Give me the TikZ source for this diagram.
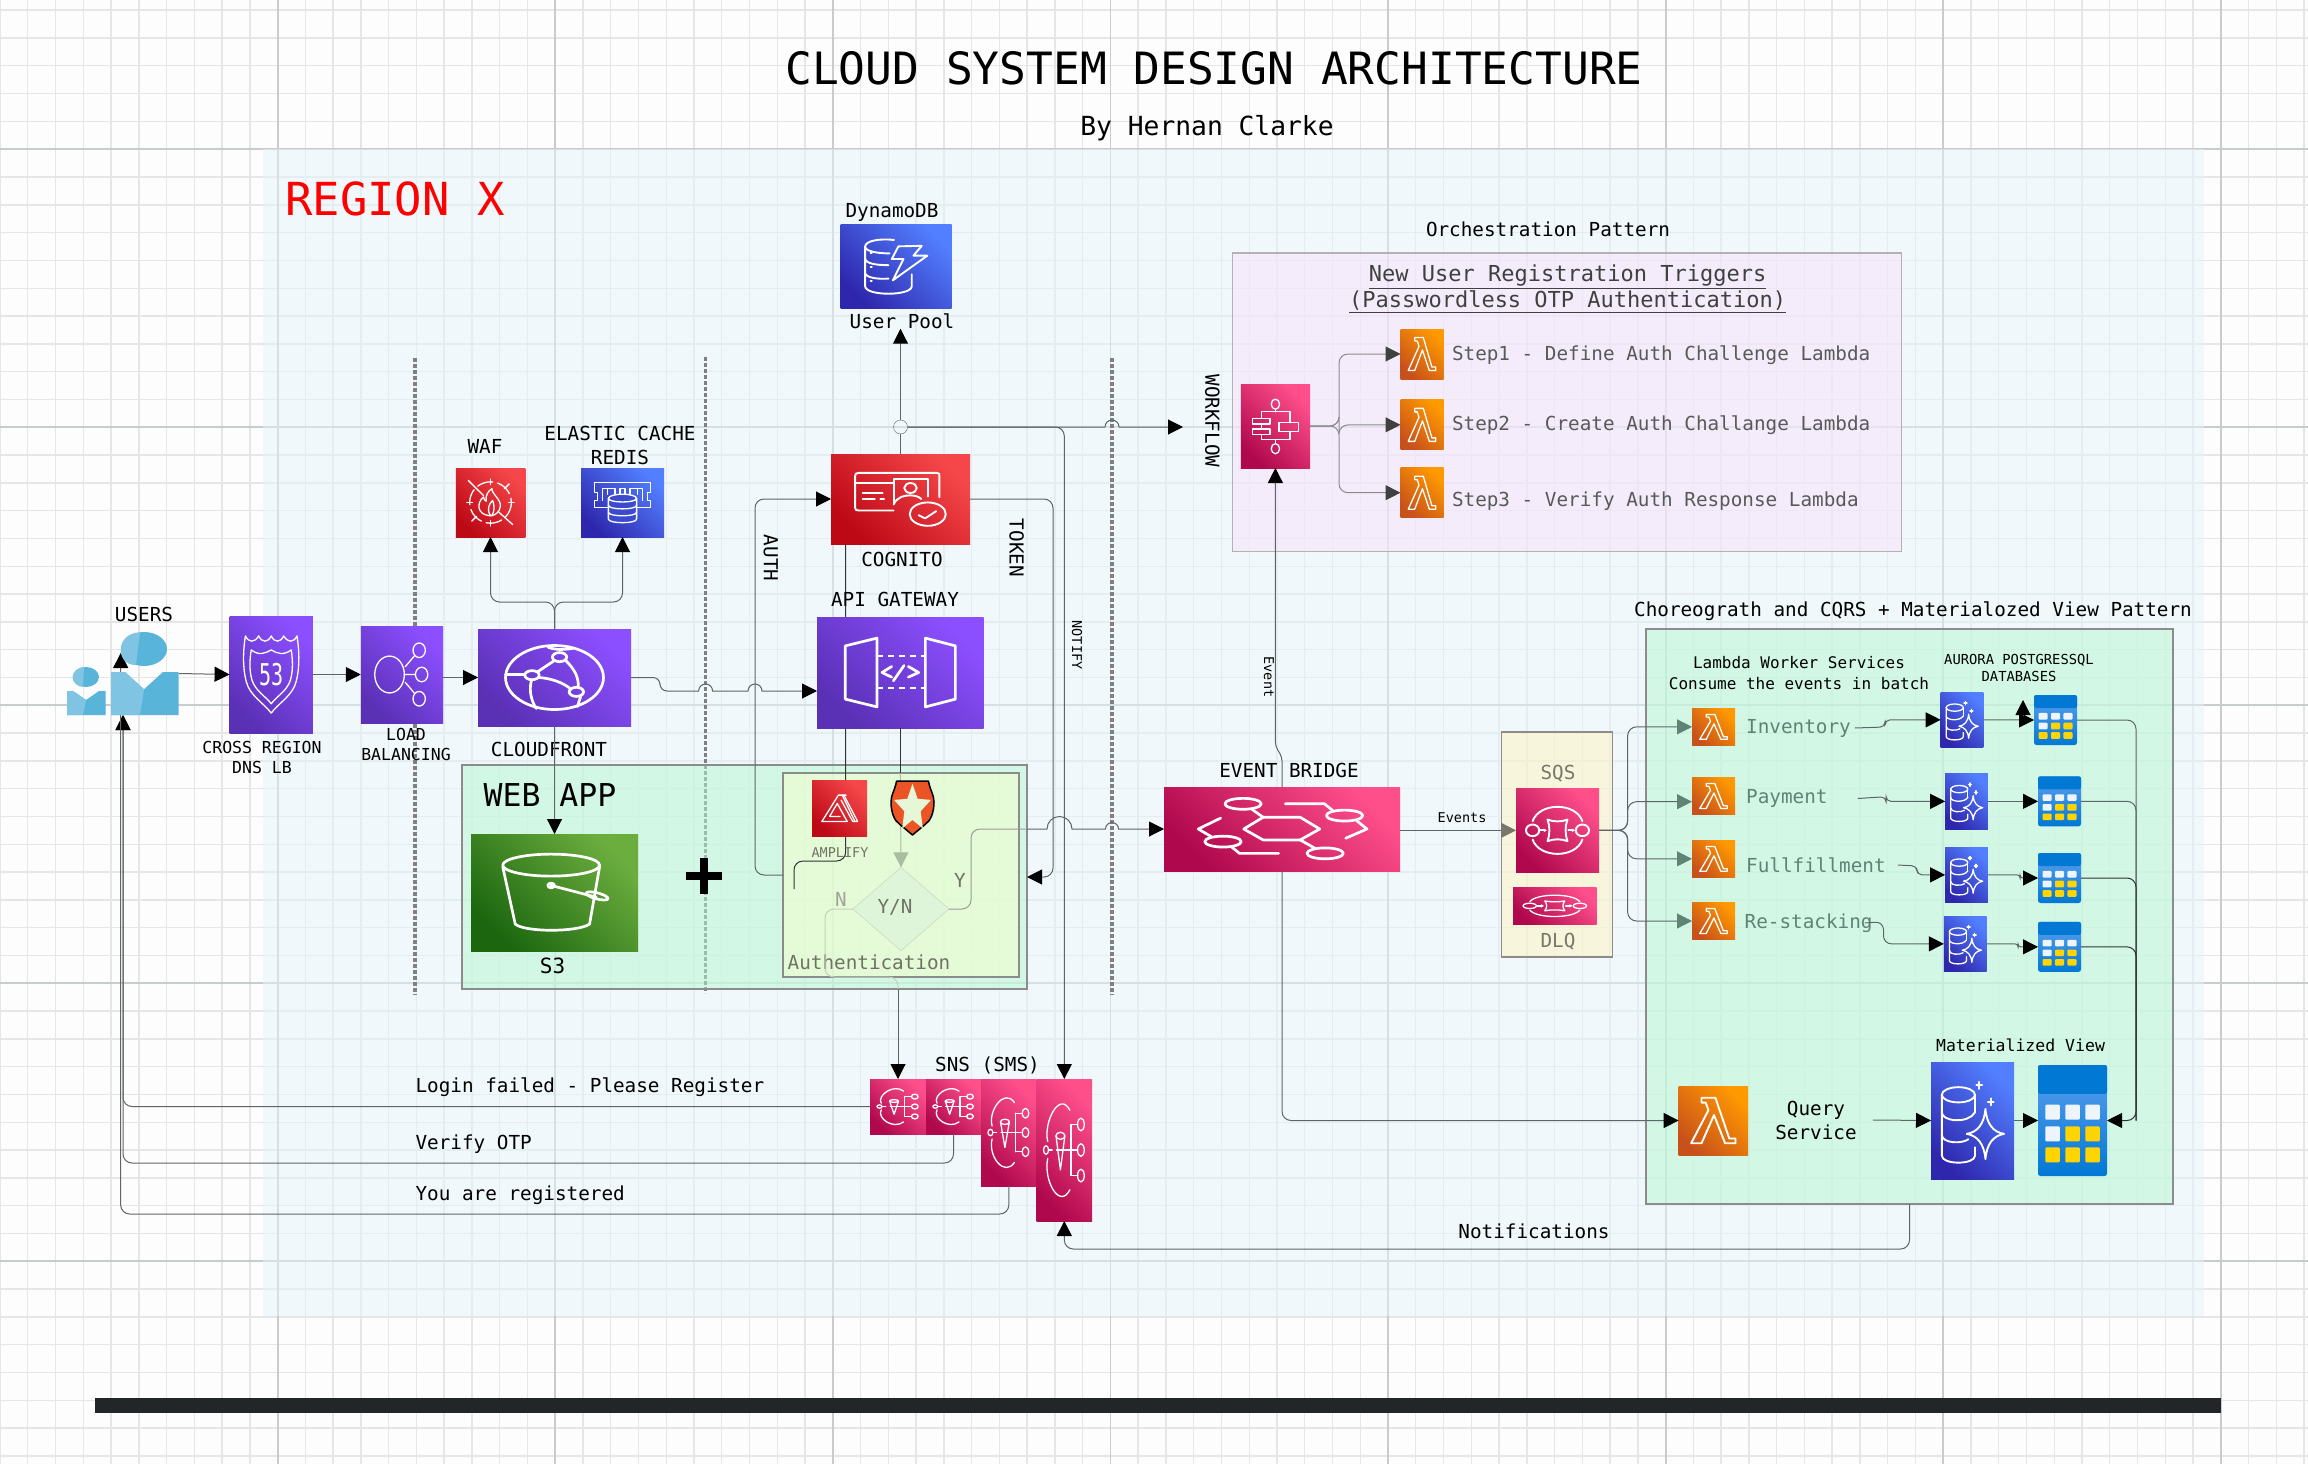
\documentclass[tikz,border=0pt]{standalone}
\usepackage{fontspec}
\setmainfont{DejaVu Sans Mono}
\usetikzlibrary{positioning, shapes.geometric, arrows.meta}
\definecolor{pageWhite}{HTML}{FDFDFD}
\definecolor{gridMinor}{HTML}{E6E6E6}
\definecolor{gridMajor}{HTML}{C9CCCC}
\definecolor{regionBlue}{HTML}{E4F4FB}
\definecolor{connGrey}{HTML}{5F6566}
\definecolor{connDark}{HTML}{333333}
\definecolor{fadeText}{HTML}{6F7363}
\definecolor{fadeTeal}{HTML}{5F8374}
\definecolor{fadeLine}{HTML}{C3D2B7}
\definecolor{fadeTip}{HTML}{AABD9F}
\definecolor{sandText}{HTML}{77776A}
\definecolor{purpleLo}{HTML}{5A30B5}
\definecolor{purpleHi}{HTML}{8C4FFF}
\definecolor{redLo}{HTML}{BD0816}
\definecolor{redHi}{HTML}{F54749}
\definecolor{blueLo}{HTML}{2E27AD}
\definecolor{blueHi}{HTML}{527FFF}
\definecolor{greenLo}{HTML}{1B660F}
\definecolor{greenHi}{HTML}{6CAE3E}
\definecolor{pinkLo}{HTML}{B0084D}
\definecolor{pinkHi}{HTML}{FF4F8B}
\definecolor{orangeLo}{HTML}{C8511B}
\definecolor{orangeHi}{HTML}{FF9900}
\definecolor{tableLo}{HTML}{0078D4}
\definecolor{tableHi}{HTML}{5EA0EF}
\definecolor{cellWhite}{HTML}{EEF4FC}
\definecolor{cellYellow}{HTML}{FFD400}
\definecolor{usersDark}{HTML}{59B4D9}
\definecolor{usersLight}{HTML}{7FC5E3}
\newcommand{\sz}[2]{\fontsize{#1}{#2}\selectfont}
\tikzset{
  minorgrid/.style={draw=gridMinor, line width=1.4pt},
  majorgrid/.style={draw=gridMajor, line width=1.8pt},
  dottedrule/.style={draw=black!50, line width=3.5pt, dash pattern=on 3.5pt off 2.5pt},
  conn/.style={draw=connGrey, line width=1pt, rounded corners=9pt},
  arw/.style={-{Triangle[length=15pt,width=15pt,black]}},
  arwfade/.style={-{Triangle[length=15pt,width=15pt,#1]}},
  glyph/.style={draw=white, line join=round, line cap=round},
  thinglyph/.style={line width=1.3pt},
  midglyph/.style={line width=1.9pt},
  wideglyph/.style={line width=2.7pt},
  awsbox/.style={inner sep=0pt, outer sep=0pt, shading angle=-45},
  purplebox/.style={bottom color=purpleLo, top color=purpleHi, awsbox},
  redbox/.style={bottom color=redLo, top color=redHi, awsbox},
  bluebox/.style={bottom color=blueLo, top color=blueHi, awsbox},
  greenbox/.style={bottom color=greenLo, top color=greenHi, awsbox},
  pinkbox/.style={bottom color=pinkLo, top color=pinkHi, awsbox},
  lambdabox/.style={bottom color=orangeLo, top color=orangeHi, awsbox},
  tablebox/.style={inner sep=0pt, outer sep=0pt, rounded corners=2.5pt, top color=tableHi, bottom color=tableLo},
  groupbox/.style={inner sep=0pt, outer sep=0pt, fill opacity=.5, line width=1.5pt},
  lbl/.style={font=\sz{19.3}{24}, align=center, inner sep=0pt},
  smalllbl/.style={font=\sz{16.5}{20}, align=center, inner sep=0pt},
  tinylbl/.style={font=\sz{13.5}{17}, align=center, inner sep=0pt},
  lambdaglyph/.pic={
    \draw[glyph] (-17,-33) -- (3,-33) -- (23,26) -- (32,26) -- (32,33) -- (17,33) -- (1,-8) -- (-17,33) -- (-32,33) -- (-7,-15) -- (-11,-26) -- (-17,-26) -- cycle;
  },
  tableglyph/.pic={
    \fill[fill=tableLo, rounded corners=2pt] (-50,-50) rectangle (50,-24);
    \foreach \cx/\cy/\cc in {-29/-7.5/cellWhite, 0/-7.5/cellWhite, 29/-7.5/cellWhite, -29/12/cellWhite, 0/12/cellYellow, 29/12/cellYellow, -29/31/cellYellow, 0/31/cellYellow, 29/31/cellYellow}
      \fill[\cc, rounded corners=1pt] (\cx-10.5,\cy-6.7) rectangle (\cx+10.5,\cy+6.7);
  },
  auroraglyph/.pic={
    \draw[glyph] (-17,-22) ellipse [x radius=20, y radius=6.5];
    \draw[glyph] (-37,-22) -- (-37,30) .. controls (-37,38) and (3,38) .. (3,30) -- (3,23);
    \draw[glyph] (3,-22) -- (3,-7);
    \draw[glyph] (-37,-7) .. controls (-37,1) and (-5,3) .. (3,-7);
    \draw[glyph] (-37,12) .. controls (-37,20) and (-12,20) .. (-5,16);
    \draw[glyph] (15.6,-10) .. controls (17,3) and (25,10) .. (38,11.4) .. controls (25,13) and (17,20) .. (15.6,33) .. controls (14,20) and (6,13) .. (-7,11.4) .. controls (6,10) and (14,3) .. cycle;
    \draw[glyph] (8,-33) -- (8,-27) (4.5,-30) -- (11.5,-30);
    \draw[glyph] (22,-19) -- (22,-13) (18.5,-16) -- (25.5,-16);
  },
  snsglyph/.pic={
    \draw[glyph] (10,-28) .. controls (-8,-42) and (-38,-20) .. (-30,-6);
    \draw[glyph] (-30,6) .. controls (-38,22) and (-8,42) .. (10,28);
    \draw[glyph] (-33,0) ellipse [x radius=4.5, y radius=3];
    \draw[glyph] (-28,0) -- (-22,0) (-14,0) -- (22,0) (12,-18) -- (12,18) (12,-18) -- (24,-18) (12,18) -- (24,18);
    \draw[glyph] (-7,-10) ellipse [x radius=8, y radius=2.5];
    \draw[glyph] (-15,-10) -- (-7,14) -- (1,-10);
    \draw[glyph] (30,-18) ellipse [x radius=6, y radius=4.5] (30,0) ellipse [x radius=6, y radius=4.5] (30,18) ellipse [x radius=6, y radius=4.5];
  },
  sqsglyph/.pic={
    \draw[glyph] (-30,-11) .. controls (-22,-34) and (22,-34) .. (30,-11);
    \draw[glyph] (-30,11) .. controls (-22,34) and (22,34) .. (30,11);
    \draw[glyph] (-30,0) ellipse [x radius=8, y radius=7];
    \draw[glyph] (30,0) ellipse [x radius=8, y radius=7];
    \draw[glyph] (-12,-13) .. controls (-5,-10) and (5,-10) .. (12,-13) .. controls (9,-5) and (9,5) .. (12,13) .. controls (5,10) and (-5,10) .. (-12,13) .. controls (-9,5) and (-9,-5) .. cycle;
    \draw[glyph, -{Stealth[length=3pt,width=3.5pt]}] (-21,0) -- (-13,0);
    \draw[glyph, -{Stealth[length=3pt,width=3.5pt]}] (13,0) -- (21,0);
  },
  eventglyph/.pic={
    \draw[glyph] (-16.2,0) -- (-8,-14) -- (7.7,-14) -- (16,0) -- (7.7,13) -- (-8,13) -- cycle;
    \draw[glyph] (-16.5,-30) ellipse [x radius=7.7, y radius=6.5];
    \draw[glyph] (-13,-24) -- (-8,-14) (7.7,13) -- (14,23);
    \draw[glyph] (18.3,29) ellipse [x radius=7.7, y radius=6.5];
    \draw[glyph] (26.5,-16) ellipse [x radius=7.7, y radius=6.5];
    \draw[glyph] (1.4,-30) -- (18,-30) -- (21.5,-22);
    \draw[glyph] (31.6,-10) -- (36,0) -- (27,11);
    \draw[glyph] (-25,15) ellipse [x radius=7.7, y radius=6.5];
    \draw[glyph] (-26,-13) -- (-35.5,0) -- (-30,9);
    \draw[glyph] (-21.5,21) -- (-18,29) -- (-1.4,29);
  },
  stepglyph/.pic={
    \draw[glyph] (0,-26) ellipse [x radius=6, y radius=6];
    \draw[glyph] (0,27) ellipse [x radius=6, y radius=6];
    \draw[glyph] (0,-20) -- (0,-17) (-20,-9) -- (-20,-17) -- (21,-17) -- (21,-4) (21,6.4) -- (21,16) -- (-20,16) -- (-20,10.4) (-20,-2.4) -- (-20,3.6) (0,16) -- (0,21);
    \draw[glyph] (-33,-9.2) rectangle (-8,-2.4) (-33,3.6) rectangle (-8,10.4) (5,-4) rectangle (33.5,6.4);
  },
  dnsglyph/.pic={
    \draw[glyph] (-31,-33) .. controls (-27,-27) and (-20,-27) .. (-15,-33) .. controls (-11,-27) and (-4,-27) .. (0,-33) .. controls (4,-27) and (11,-27) .. (15,-33) .. controls (20,-27) and (27,-27) .. (31,-33) .. controls (35,-15) and (33,-2) .. (30,6) .. controls (26,18) and (8,25) .. (0,33) .. controls (-8,25) and (-26,18) .. (-30,6) .. controls (-33,-2) and (-35,-15) .. cycle;
    \draw[glyph] (-24,-21) .. controls (-15,-16) and (-7,-18) .. (0,-21) .. controls (7,-18) and (15,-16) .. (24,-21) .. controls (27,-8) and (25,0) .. (23,5) .. controls (19,14) and (6,19) .. (0,25) .. controls (-6,19) and (-19,14) .. (-23,5) .. controls (-25,0) and (-27,-8) .. cycle;
    \node[font=\sz{20}{20}, text=white, yscale=1.5, inner sep=0pt] (dnsnum) at (0,0) {53};
  },
  balanceglyph/.pic={
    \draw[glyph] (-15,0) ellipse [x radius=18, y radius=19];
    \draw[glyph] (21,-25) ellipse [x radius=7.5, y radius=7.5];
    \draw[glyph] (24,0) ellipse [x radius=7.5, y radius=7.5];
    \draw[glyph] (21,25) ellipse [x radius=7.5, y radius=7.5];
    \draw[glyph] (4,-8) -- (15,-19) (3,0) -- (16,0) (4,8) -- (15,19);
  },
  frontglyph/.pic={
    \draw[glyph] (0,0) ellipse [x radius=32, y radius=33];
    \draw[glyph] (3.3,-21) ellipse [x radius=4.7, y radius=4.7];
    \draw[glyph] (-14.7,-2.4) ellipse [x radius=4.7, y radius=4.7];
    \draw[glyph] (14.3,14.8) ellipse [x radius=4.7, y radius=4.7];
    \draw[glyph] (-0.5,-17) -- (-11,-6) (-10,0) .. controls (-2,1) and (5,5) .. (10,11) (7,-18) .. controls (13,-9) and (16,0) .. (15.5,10) (-15,2.5) .. controls (-17,14) and (-15,24) .. (-12,32) (-32,-3) -- (-19.5,-3) (-4,-31) .. controls (0,-29) and (3,-28) .. (12,-30) (17,20) -- (15,30);
  },
  gatewayglyph/.pic={
    \draw[glyph] (-33,-24) -- (-14,-31) -- (-14,31) -- (-33,24) -- cycle;
    \draw[glyph] (15,-31) -- (33,-24) -- (33,24) -- (15,31) -- cycle;
    \draw[glyph, line cap=butt, dash pattern=on 6pt off 5pt] (-14,-15) -- (15,-15) (-14,14) -- (15,14);
    \draw[glyph] (-5.2,-5.4) -- (-11,0) -- (-5.2,4.2) (4.8,-5.4) -- (11,0) -- (4.8,4.2) (-4.2,7.5) -- (2.2,-6.3);
  },
  cognitoglyph/.pic={
    \draw[glyph] (-5,12.8) -- (-30,12.8) .. controls (-32,12.8) and (-32.6,12) .. (-32.6,10) -- (-32.6,-26) .. controls (-32.6,-28) and (-32,-29) .. (-30,-29) -- (26,-29) .. controls (28,-29) and (28,-28) .. (28,-26) -- (28,-2);
    \draw[glyph] (-32.6,-17.5) -- (-5,-17.5) (-27.3,-6.5) -- (-12.8,-6.5) (-27.3,0.2) -- (-18.5,0.2) (-14.5,0.2) -- (-11.8,0.2);
    \draw[glyph] (-5,5) -- (-5,-22) -- (20,-22) -- (20,-3);
    \draw[glyph] (7.2,-12.2) ellipse [x radius=4.5, y radius=5.5];
    \draw[glyph] (-5,6) .. controls (-2,-3) and (3,-4) .. (7,-4) .. controls (10,-4) and (13,-3) .. (15,0);
    \draw[glyph] (19.6,16.8) ellipse [x radius=13, y radius=13];
    \draw[glyph] (13,18) -- (17.7,21.5) -- (25.7,13.5);
  },
  bucketglyph/.pic={
    \draw[glyph] (-2,-23.4) ellipse [x radius=29, y radius=9.4];
    \draw[glyph] (-31,-22) -- (-23.5,27) .. controls (-18,34) and (14,34) .. (21,27) -- (27,-22);
    \draw[glyph] (-2,-6) -- (25,4);
    \draw[glyph] (-2,-6) circle [radius=2];
    \draw[glyph, rotate around={-22:(25.5,2.9)}] (25.5,2.9) ellipse [x radius=7, y radius=2.5];
  },
  dynamoglyph/.pic={
    \draw[glyph] (-2,-31) .. controls (-15,-33) and (-28,-30) .. (-28,-23) .. controls (-28,-18) and (-18,-15) .. (-6,-15);
    \draw[glyph] (-28,-23) -- (-28,24) .. controls (-28,36) and (14,36) .. (14,24) -- (14,10);
    \draw[glyph] (-28,-9) .. controls (-28,-3) and (-18,-1) .. (-7,-1);
    \draw[glyph] (-28,8) .. controls (-28,14) and (-16,16) .. (-7,15);
    \draw[glyph] (2,-23.4) -- (23,-24) -- (15.5,-12.3) -- (28,-12.3) -- (-3,17) -- (6.6,-8.3) -- (-4,-8.3) -- cycle;
    \draw[glyph, line cap=round] (-23,-16) -- (-22,-16) (-23,1) -- (-22,1) (-23,18) -- (-22,18);
  },
  wafglyph/.pic={
    \draw[glyph, dash pattern=on 16pt off 5pt] (0,0) circle [radius=30];
    \draw[glyph] (0,-34) -- (0,-26) (0,26) -- (0,34) (-34,0) -- (-26,0) (26,0) -- (34,0);
    \draw[glyph] (-32,-32) -- (-10,-10) (32,32) -- (12,14) (27,-27) -- (20,-20) (-27,27) -- (-20,20);
    \draw[glyph] (-2,19) .. controls (-20,17) and (-20,0) .. (-10,-8) .. controls (-9,-3) and (-7,-2) .. (-6,-2) .. controls (-8,-10) and (-3,-17) .. (2,-20) .. controls (2,-12) and (16,-4) .. (14,6) .. controls (13,14) and (7,18) .. (2,19) -- cycle;
    \draw[glyph] (0,19) .. controls (-6,10) and (-2,2) .. (3,-3) .. controls (6,5) and (6,12) .. (2,19);
  },
  cacheglyph/.pic={
    \draw[glyph] (-17,7) -- (-34,7) -- (-34,-3) -- (-30,-3) -- (-30,-15) -- (-34,-15) -- (-34,-29) -- (34,-29) -- (34,-15) -- (30,-15) -- (30,-3) -- (34,-3) -- (34,7) -- (17,7);
    \draw[glyph] (-24,-3) -- (-24,-20) -- (-18,-20) -- (-18,-12) (-18,-20) -- (-9,-20) -- (-9,-12) (-3,-12) -- (-3,-20) -- (3,-20) -- (3,-12) (9,-12) -- (9,-20) -- (18,-20) -- (18,-12) (18,-20) -- (24,-20) -- (24,-3);
    \draw[fill=blueLo!60!blueHi, glyph] (0,-6) ellipse [x radius=17, y radius=6];
    \draw[fill=blueLo!60!blueHi, glyph] (-17,-6) -- (-17,24) .. controls (-17,31) and (17,31) .. (17,24) -- (17,-6) .. controls (17,1) and (-17,1) .. (-17,-6) -- cycle;
    \draw[glyph] (-17,4) .. controls (-17,11) and (17,11) .. (17,4) (-17,14) .. controls (-17,21) and (17,21) .. (17,14);
  },
  amplifyglyph/.pic={
    \draw[glyph] (-32,24) -- (-2,-23) -- (8,-23) -- (33,24) -- (24,24) -- (3,-14);
    \draw[glyph] (-32,24) -- (14,24) -- (-4,-8) -- (-18,15) -- (1,15);
    \draw[glyph] (8,-23) -- (12,-23) (5,-23) -- (28,24);
  },
  shieldglyph/.pic={
    \draw[fill={rgb,255:red,235;green,84;blue,36}, draw=black, line width=1.5pt, line join=round] (-37,-50) -- (37,-50) .. controls (42,-30) and (50,-25) .. (50,-11) .. controls (50,8) and (42,24) .. (30,30) -- (0,50) -- (-30,30) .. controls (-42,24) and (-50,8) .. (-50,-11) .. controls (-50,-25) and (-42,-30) .. cycle;
    \fill[fill={rgb,255:red,230;green,247;blue,216}] (0,-45) -- (12,-17) -- (43,-15) -- (19,6) -- (24,38) -- (0,22) -- (-24,38) -- (-19,6) -- (-43,-15) -- (-12,-17) -- cycle;
  },
  usersglyph/.pic={
    \fill[usersDark] (-12,-1.5) -- (2,-1.5) -- (21,15.8) -- (40,-1.5) -- (55.6,-1.5) -- (55.6,41.5) -- (-12,41.5) -- cycle;
    \fill[usersLight] (-12,-1.5) -- (2,-1.5) -- (21,15.8) -- (17,41.5) -- (-12,41.5) -- cycle;
    \fill[usersDark] (21,-24.5) ellipse [x radius=23, y radius=17];
    \fill[usersLight] (17,-41) .. controls (-8,-41) and (-8,-8) .. (13,-8.5) -- cycle;
    \fill[usersDark] (-56,17.5) -- (-50,17.5) -- (-37,26.5) -- (-24,17.5) -- (-17.4,17.5) -- (-17.4,41.5) -- (-56,41.5) -- cycle;
    \fill[usersLight] (-56,17.5) -- (-50,17.5) -- (-37,26.5) -- (-40,41.5) -- (-56,41.5) -- cycle;
    \fill[usersDark] (-37,3.5) ellipse [x radius=13, y radius=10];
    \fill[usersLight] (-39,-6.5) .. controls (-54,-5) and (-54,12) .. (-40,13.5) -- cycle;
  },
}

\begin{document}
\begin{tikzpicture}[x=1pt, y=-1pt]
\useasboundingbox (0,0) rectangle (2308,1464);

\fill[pageWhite] (0,0) rectangle (2308,1464);
\foreach \gx in {0,...,83}
  \draw[minorgrid] ({\gx*27.76},0) -- ({\gx*27.76},1464);
\foreach \gy in {0,...,52}
  \draw[minorgrid] (0,{10.2+\gy*27.8}) -- (2308,{10.2+\gy*27.8});
\foreach \gx in {1,...,8}
  \draw[majorgrid] ({\gx*277.6},0) -- ({\gx*277.6},1464);
\foreach \gy in {0,...,4}
  \draw[majorgrid] (0,{149+\gy*278}) -- (2308,{149+\gy*278});

\node[groupbox, fill=regionBlue, minimum width=1941pt, minimum height=1167pt] (region) at (1233.5,732.5) {};

\node[font=\sz{44.5}{50}, inner sep=0pt] (title) at (1214,68) {CLOUD SYSTEM DESIGN ARCHITECTURE};
\node[font=\sz{26.3}{30}, inner sep=0pt] (byline) at (1207,128) {By Hernan Clarke};
\node[font=\sz{45.5}{50}, text=red, inner sep=0pt] (regionname) at (395,199) {REGION X};

\draw[dottedrule] (415,358) -- (415,995);
\draw[dottedrule] (705.6,357) -- (705.6,993);
\draw[dottedrule] (1112,358) -- (1112,995);

\node[groupbox, draw=black!45, fill={rgb,255:red,181;green,249;blue,209}, minimum width=565pt, minimum height=224pt] (webapp) at (744.5,877) {};
\node[groupbox, draw=black!45, fill={rgb,255:red,248;green,255;blue,204}, minimum width=236pt, minimum height=204pt] (authbox) at (901,875) {};
\node[groupbox, draw=black!30, fill={rgb,255:red,248;green,225;blue,251}, minimum width=669pt, minimum height=298.7pt] (orch) at (1567,402.35) {};
\node[groupbox, draw=black!45, fill={rgb,255:red,181;green,249;blue,209}, minimum width=527pt, minimum height=575pt] (choreo) at (1909.5,916.5) {};
\node[groupbox, draw=black!45, fill={rgb,255:red,255;green,243;blue,189}, minimum width=111pt, minimum height=225pt] (sqsgroup) at (1557,844.5) {};

\node[redbox, minimum width=139pt, minimum height=90pt] (cognito) at (900.5,499) {};
\draw[conn, connDark] ([xshift=-55pt]cognito.south) -- (845.7,861) -- (794,861) -- (794,889);

\node[purplebox, minimum width=166.7pt, minimum height=111pt] (api) at (900.35,672.5) {};
\pic[xscale=1.667, yscale=1.11, wideglyph] at (api.center) {gatewayglyph};
\pic[xscale=1.39, yscale=.9, midglyph] at (cognito.center) {cognitoglyph};
\node[lbl] (cognitoname) at (902,559) {COGNITO};
\node[lbl] (apiname) at (895,599) {API GATEWAY};

\node[redbox, minimum width=69.5pt, minimum height=69pt] (waf) at (490.5,502.5) {};
\pic[xscale=.695, yscale=.69, thinglyph] at (waf.center) {wafglyph};
\node[lbl] (wafname) at (485,446) {WAF};
\node[bluebox, minimum width=83pt, minimum height=69pt] (elastic) at (622.5,502.5) {};
\pic[xscale=.83, yscale=.69, thinglyph] at (elastic.center) {cacheglyph};
\node[lbl] (elasticname) at (620,445) {ELASTIC CACHE\\REDIS};

\node[bluebox, minimum width=111pt, minimum height=84pt] (dynamo) at (896.2,266) {};
\pic[xscale=1.11, yscale=.84, midglyph] at (dynamo.center) {dynamoglyph};
\node[lbl] (dynamoname) at (892,212) {DynamoDB};
\node[lbl] (poolname) at (902,321) {User Pool};

\node[minimum width=112pt, minimum height=83pt, inner sep=0pt, outer sep=0pt] (users) at (123,673.5) {};
\node[lbl] (usersname) at (144,614) {USERS};
\coordinate (usershead) at (120.7,653);

\node[purplebox, minimum width=83.2pt, minimum height=117pt] (dns) at (271.2,674.5) {};
\pic[xscale=.832, yscale=1.17, thinglyph] at (dns.center) {dnsglyph};
\node[smalllbl] (dnsname) at (262,757) {CROSS REGION\\DNS LB\hspace{8pt}};

\node[purplebox, minimum width=82.3pt, minimum height=97pt] (lb) at (401.9,674.5) {};
\pic[xscale=.823, yscale=.97, thinglyph] at (lb.center) {balanceglyph};
\node[smalllbl] (lbname) at (406,744) {LOAD\hspace{10pt}\\BALANCING};

\node[purplebox, minimum width=153pt, minimum height=97pt] (cf) at (554.5,677.5) {};
\pic[xscale=1.53, yscale=.97, wideglyph] at (cf.center) {frontglyph};
\node[lbl] (cfname) at (549,749) {CLOUDFRONT};

\node[font=\sz{31.5}{36}, inner sep=0pt] (webname) at (550,795) {WEB APP};
\node[greenbox, minimum width=167pt, minimum height=117pt] (s3) at (554.5,892.5) {};
\pic[xscale=1.67, yscale=1.17, wideglyph] at (s3.center) {bucketglyph};
\node[font=\sz{21}{24}, inner sep=0pt] (s3name) at (552.5,966) {S3};
\draw[line width=7.5pt] (686,876) -- (722,876) (704,858) -- (704,894);

\node[diamond, minimum width=96pt, minimum height=83.4pt, inner sep=0pt, outer sep=0pt, draw=fadeLine, fill={rgb,255:red,222;green,245;blue,218}] (decision) at (901,909) {};
\node[lbl, text=fadeText] (decisionname) at (895,907) {Y/N};
\node[lbl, text=fadeText!65] (noname) at (841,899) {N};
\node[lbl, text=fadeText] (yesname) at (960,880) {Y};
\node[lbl, text=fadeText] (authname) at (869,962) {Authentication};
\node[tinylbl, text=fadeText] (amplifyname) at (840,853) {AMPLIFY};
\coordinate (ygate) at (1027,829);
\draw[conn, connDark] (api.south) -- (api.south |- authbox.north);
\draw[conn, draw=fadeTip, arwfade=fadeTip] (api.south |- authbox.north) -- (decision.north);
\draw[conn, draw=fadeLine] (decision.west) -- (825,909) -- (825,977) -- (898,977) -- (898,989);
\draw[conn, draw=fadeText!70] (decision.east) -- (971,909) -- (971,829) -- (ygate);

\node[redbox, minimum width=55pt, minimum height=56pt] (amplify) at (839.5,808) {};
\pic[xscale=.55, yscale=.56, thinglyph] at (amplify.center) {amplifyglyph};
\node[inner sep=0pt, minimum width=43pt, minimum height=54pt] (authzero) at (912.5,808) {};
\pic[xscale=.43, yscale=.54] at (authzero.center) {shieldglyph};

\node[pinkbox, minimum width=236pt, minimum height=84pt] (eb) at (1282,829) {};
\pic[xscale=2.36, yscale=.84, wideglyph] at (eb.center) {eventglyph};
\node[lbl] (ebname) at (1289,770) {EVENT BRIDGE};

\node[pinkbox, minimum width=69.2pt, minimum height=84pt] (stepfn) at (1275.4,426) {};
\pic[xscale=.692, yscale=.84, thinglyph] at (stepfn.center) {stepglyph};
\node[lbl, rotate=-90] (workflowname) at (1212.5,421) {WORKFLOW};
\node[tinylbl, rotate=-90] (eventname) at (1269,677) {Event};

\node[lbl] (orchname) at (1548,229) {Orchestration Pattern};
\node[font=\sz{22}{26}, align=center, inner sep=0pt, text=black!75] (orchtitle) at (1567.6,289) {\underline{New User Registration Triggers}\\\underline{(Passwordless OTP Authentication)}};

\node[lambdabox, minimum width=43pt, minimum height=50pt] (step1) at (1422,354) {};
\pic[xscale=.43, yscale=.5, thinglyph] at (step1.center) {lambdaglyph};
\node[lambdabox, minimum width=43pt, minimum height=50pt] (step2) at (1422,424.85) {};
\pic[xscale=.43, yscale=.5, thinglyph] at (step2.center) {lambdaglyph};
\node[lambdabox, minimum width=43pt, minimum height=50pt] (step3) at (1422,492.7) {};
\pic[xscale=.43, yscale=.5, thinglyph] at (step3.center) {lambdaglyph};
\node[lbl, anchor=west, text=black!65] (step1name) at (1451.8,355) {Step1 - Define Auth Challenge Lambda};
\node[lbl, anchor=west, text=black!65] (step2name) at (1451.8,425) {Step2 - Create Auth Challange Lambda};
\node[lbl, anchor=west, text=black!65] (step3name) at (1451.8,501) {Step3 - Verify Auth Response Lambda};

\node[lbl] (choreoname) at (1913,611) {Choreograth and CQRS + Materialozed View Pattern};
\node[font=\sz{16}{21}, align=center, inner sep=0pt] (workername) at (1799,673.5) {Lambda Worker Services\\Consume the events in batch};
\node[font=\sz{13.8}{17}, align=center, inner sep=0pt] (auroraname) at (2019,667.5) {AURORA POSTGRESSQL\\DATABASES};

\node[pinkbox, minimum width=83pt, minimum height=83.3pt] (sqs) at (1557.5,830.35) {};
\pic[xscale=.83, yscale=.833, midglyph] at (sqs.center) {sqsglyph};
\node[pinkbox, minimum width=83.6pt, minimum height=37.7pt] (dlq) at (1554.8,905.85) {};
\pic[xscale=.836, yscale=.377, thinglyph] at (dlq.center) {sqsglyph};
\node[lbl, text=sandText] (sqsname) at (1558,774) {SQS};
\node[lbl, text=sandText] (dlqname) at (1558,942) {DLQ};

\node[lambdabox, minimum width=43pt, minimum height=37.7pt] (inv) at (1713.5,726.85) {};
\pic[xscale=.43, yscale=.377, thinglyph] at (inv.center) {lambdaglyph};
\node[lambdabox, minimum width=43pt, minimum height=37.7pt] (pay) at (1713.5,796) {};
\pic[xscale=.43, yscale=.377, thinglyph] at (pay.center) {lambdaglyph};
\node[lambdabox, minimum width=43pt, minimum height=37.7pt] (ful) at (1713.5,858.85) {};
\pic[xscale=.43, yscale=.377, thinglyph] at (ful.center) {lambdaglyph};
\node[lambdabox, minimum width=43pt, minimum height=37.7pt] (res) at (1713.5,921) {};
\pic[xscale=.43, yscale=.377, thinglyph] at (res.center) {lambdaglyph};
\node[lbl, anchor=west, text=fadeTeal] (invname) at (1746,728) {Inventory};
\node[lbl, anchor=west, text=fadeTeal] (payname) at (1746,798.5) {Payment};
\node[lbl, anchor=west, text=fadeTeal] (fulname) at (1746,865) {Fullfillment};
\node[lbl, anchor=west, text=fadeTeal] (resname) at (1744.5,923) {Re-stacking};

\node[bluebox, minimum width=42.7pt, minimum height=55.7pt] (aur1) at (1962,719.85) {};
\pic[xscale=.427, yscale=.557, thinglyph] at (aur1.center) {auroraglyph};
\node[bluebox, minimum width=42.7pt, minimum height=55.7pt] (aur2) at (1966.5,801.35) {};
\pic[xscale=.427, yscale=.557, thinglyph] at (aur2.center) {auroraglyph};
\node[bluebox, minimum width=42.7pt, minimum height=55.7pt] (aur3) at (1966.5,874.85) {};
\pic[xscale=.427, yscale=.557, thinglyph] at (aur3.center) {auroraglyph};
\node[bluebox, minimum width=42.7pt, minimum height=55.7pt] (aur4) at (1965.2,943.85) {};
\pic[xscale=.427, yscale=.557, thinglyph] at (aur4.center) {auroraglyph};
\node[tablebox, minimum width=43pt, minimum height=50pt] (tab1) at (2055.5,720) {};
\pic[xscale=.43, yscale=.5] at (tab1.center) {tableglyph};
\node[tablebox, minimum width=43pt, minimum height=50pt] (tab2) at (2059.5,801.35) {};
\pic[xscale=.43, yscale=.5] at (tab2.center) {tableglyph};
\node[tablebox, minimum width=43pt, minimum height=50pt] (tab3) at (2059.5,878) {};
\pic[xscale=.43, yscale=.5] at (tab3.center) {tableglyph};
\node[tablebox, minimum width=43pt, minimum height=50pt] (tab4) at (2059.5,946.85) {};
\pic[xscale=.43, yscale=.5] at (tab4.center) {tableglyph};

\node[lambdabox, minimum width=69.4pt, minimum height=69pt] (qlambda) at (1713.3,1120.5) {};
\pic[xscale=.694, yscale=.69, midglyph] at (qlambda.center) {lambdaglyph};
\node[lbl] (queryname) at (1816,1120) {Query\\Service};
\node[bluebox, minimum width=83pt, minimum height=117pt] (maur) at (1972.5,1120.5) {};
\pic[xscale=.83, yscale=1.17, midglyph] at (maur.center) {auroraglyph};
\node[tablebox, minimum width=69pt, minimum height=111pt] (mtab) at (2072.5,1120.5) {};
\pic[xscale=.69, yscale=1.11] at (mtab.center) {tableglyph};
\node[smalllbl] (matname) at (2020.5,1045) {Materialized View};

\node[pinkbox, minimum width=56pt, minimum height=55pt] (sns1) at (898,1106.5) {};
\pic[xscale=.56, yscale=.55, thinglyph] at (sns1.center) {snsglyph};
\node[pinkbox, minimum width=55pt, minimum height=55pt] (sns2) at (953.5,1106.5) {};
\pic[xscale=.55, yscale=.55, thinglyph] at (sns2.center) {snsglyph};
\node[pinkbox, minimum width=55.6pt, minimum height=107pt] (sns3) at (1008.8,1132.5) {};
\pic[xscale=.556, yscale=1.07, thinglyph] at (sns3.center) {snsglyph};
\node[pinkbox, minimum width=55.4pt, minimum height=142pt] (sns4) at (1064.3,1150) {};
\pic[xscale=.554, yscale=1.42, thinglyph] at (sns4.center) {snsglyph};
\node[lbl] (snsname) at (987.5,1065) {SNS (SMS)};

\node[lbl, anchor=west] (loginname) at (415.4,1087) {Login failed - Please Register};
\node[lbl, anchor=west] (verifyname) at (415.4,1144.5) {Verify OTP};
\node[lbl, anchor=west] (registeredname) at (415.4,1195) {You are registered};
\node[lbl] (notifname) at (1534,1231) {Notifications};
\node[lbl, rotate=-90] (authline) at (770.7,558) {AUTH};
\node[lbl, rotate=-90] (tokenline) at (1016.7,548) {TOKEN};
\node[tinylbl, rotate=-90] (notifyline) at (1077,645) {NOTIFY};
\node[tinylbl] (eventsname) at (1462,818) {Events};

\draw[conn, arw] (users.east) -- (dns.west);
\draw[conn, arw] (dns.east) -- (lb.west);
\draw[conn, arw] (lb.east |- cf.west) -- (cf.west);
\draw[conn, arw] (cf.north) -- ++(0,-27) -| (waf.south);
\draw[conn, arw] (cf.north) -- ++(0,-27) -| (elastic.south);
\draw[conn, arw] (cf.south) -- (s3.north);
\draw[conn, rounded corners=7pt, arw] (cf.east) -- (660,677.5) -- (660,691) -- (680,691) [sharp corners] -- (698.6,691) arc[start angle=180, end angle=360, radius=7] -- (748,691) arc[start angle=180, end angle=360, radius=7] -- ([yshift=-18.5pt]api.west);
\draw[conn, arw] (authbox.west) -- ++(-28,0) |- (cognito.west);
\draw[conn, arw] (cognito.east) -- ++(83,0) |- (webapp.east);
\node[circle, draw=connGrey, minimum size=14pt, inner sep=0pt] (junction) at (900.5,427) {};
\draw[conn] (cognito.north) -- (junction.south);
\draw[conn, arw] (junction.north) -- (poolname.south -| junction.north);
\coordinate (workflowin) at (1183,427);
\draw[conn, sharp corners, arw] (junction.east) -- (1105,427) arc[start angle=180, end angle=360, radius=7] -- (workflowin);
\draw[conn, arw] (junction.east) -| (sns4.north);
\draw[conn, sharp corners, arw] (ygate) -- (1047,829) arc[start angle=180, end angle=360, radius=12.5] -- (1105.5,829) arc[start angle=180, end angle=360, radius=6.5] -- (eb.west);
\draw[conn, arw] (sns1.north |- webapp.south) -- (sns1.north);
\draw[conn, arw] (sns1.west) -| (users.south);
\draw[conn, arw] (sns2.south) -- ++(0,29) -| (users.south);
\draw[conn, arw] (sns3.south) -- ++(0,28) -| (usershead);
\pic at (users.center) {usersglyph};
\draw[conn, arw] (choreo.south) -- ++(0,45) -| (sns4.south);
\draw[conn, arw] (eb.south) |- (qlambda.west);
\draw[conn, rounded corners=4pt, arw] (eb.north) -- (1282,757) -- (1275.4,746) -- (stepfn.south);
\draw[conn, arwfade=sandText] (eb.east |- sqs.west) -- (sqs.west);

\draw[conn, draw=black!45, arwfade=black!75] (stepfn.east) -- ++(29,0) |- (step1.west);
\draw[conn, draw=black!45, arwfade=black!75] (stepfn.east) -- ++(29,0) |- (step2.west);
\draw[conn, draw=black!45, arwfade=black!75] (stepfn.east) -- ++(29,0) |- (step3.west);

\draw[conn, arwfade=fadeTeal] (sqs.east) -- ++(28.6,0) |- (inv.west);
\draw[conn, arwfade=fadeTeal] (sqs.east) -- ++(28.6,0) |- ([yshift=-5.7pt]pay.west);
\draw[conn, arwfade=fadeTeal] (sqs.east) -- ++(28.6,0) |- (ful.west);
\draw[conn, arwfade=fadeTeal] (sqs.east) -- ++(28.6,0) |- (res.west);

\draw[conn, rounded corners=5pt, arw] ([xshift=4pt]invname.east) -- (1885,727) -- (1885,719.85) -- (aur1.west);
\draw[conn, rounded corners=5pt, arw] ([xshift=30pt]payname.east) -- (1886,796.7) -- (1886,801.35) -- (aur2.west);
\draw[conn, rounded corners=5pt, arw] ([xshift=12pt]fulname.east) -- (1917,866) -- (1917,874.85) -- (aur3.west);
\draw[conn, rounded corners=8pt, arw] ([xshift=-8pt]resname.east) -- (1883.5,921.7) -- (1883.5,943.85) -- (aur4.west);
\draw[conn, arw] (aur1.east) -- (tab1.west);
\draw[conn, arw] (aur2.east) -- (tab2.west);
\draw[conn, rounded corners=3pt, arw] (aur3.east) -- (2020,874.85) -- (2020,878) -- (tab3.west);
\draw[conn, rounded corners=3pt, arw] (aur4.east) -- (2018,943.85) -- (2018,946.85) -- (tab4.west);
\coordinate (dbup) at (2023,716);
\draw[conn, arw] (dbup) -- ++(0,-16);
\coordinate (busturn) at (2136,1120.5);
\draw[conn] (tab1.east) -| (busturn);
\draw[conn] (tab2.east) -| (busturn);
\draw[conn, connDark] (tab3.east) -| (busturn);
\draw[conn, connDark, arw] (tab4.east) -| (busturn) -- (mtab.east);
\draw[conn, arw] ([xshift=16pt]queryname.east) -- (maur.west);
\draw[conn, arw] (maur.east) -- (mtab.west);

\node[fill={rgb,255:red,34;green,38;blue,38}, inner sep=0pt, minimum width=2125.6pt, minimum height=15pt] (footerbar) at (1158,1405.5) {};
\end{tikzpicture}
\end{document}
